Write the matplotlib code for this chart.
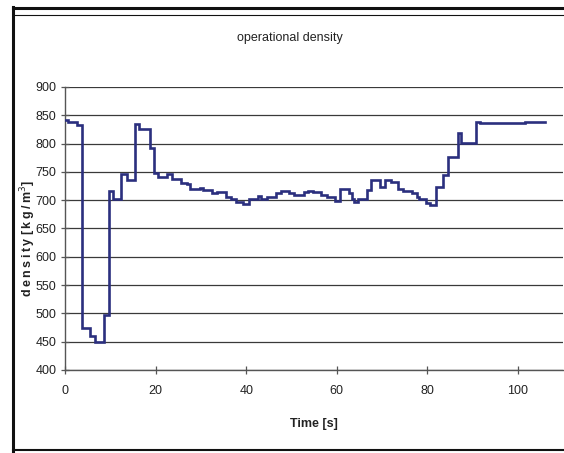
import matplotlib
matplotlib.use("Agg")
import matplotlib.pyplot as plt
from matplotlib.lines import Line2D

plt.rcParams['font.family'] = ['Liberation Sans', 'DejaVu Sans']

time_s = [0, 0.7, 2.6, 3.8, 5.6, 6.6, 8.6, 9.7, 10.6, 12.4, 13.7, 15.5, 16.4, 18.7,
          19.6, 20.5, 22.5, 23.6, 25.6, 27.0, 27.7, 29.8, 30.5, 32.5, 33.6, 35.5,
          36.6, 37.7, 39.4, 40.6, 42.5, 43.2, 44.6, 46.6, 47.7, 49.5, 50.6, 52.7,
          53.6, 54.7, 56.5, 57.9, 59.6, 60.6, 62.6, 63.3, 63.8, 64.7, 66.7, 67.6,
          69.5, 70.7, 71.9, 73.5, 74.7, 76.5, 77.6, 78.1, 79.8, 80.6, 81.8, 83.5,
          84.5, 86.7, 87.4, 90.8, 91.6, 101.6, 105.9]
density = [842, 839, 832, 475, 460, 449, 498, 716, 702, 746, 735, 834, 826, 792,
           748, 741, 746, 738, 731, 729, 720, 722, 718, 712, 715, 706,
           702, 697, 694, 702, 707, 702, 705, 713, 716, 712, 709, 714,
           717, 714, 710, 706, 699, 720, 712, 703, 696, 702, 718, 735,
           723, 735, 733, 720, 716, 712, 706, 702, 695, 692, 723, 745,
           776, 818, 801, 839, 836, 838, 838]

x_ticks = [0, 20, 40, 60, 80, 100]
y_ticks = [400, 450, 500, 550, 600, 650, 700, 750, 800, 850, 900]

W, H = 564, 453
fig = plt.figure(figsize=(W / 100, H / 100), dpi=100)
fig.patch.set_facecolor('white')

left, right, top, bottom = 65, 563.3, 87, 370
ax = fig.add_axes([left / W, 1 - bottom / H, (right - left) / W, (bottom - top) / H])
ax.set_facecolor('white')

ax.plot(time_s, density, drawstyle='steps-post', color='#2b2f7e', lw=1.9,
        solid_joinstyle='miter', zorder=3)

ax.set_xlim(0, 110)
ax.set_ylim(400, 900)
ax.set_xticks(x_ticks)
ax.set_yticks(y_ticks)
ax.yaxis.grid(True, color='#3a3a3a', lw=0.9)
ax.set_axisbelow(True)
for s in ['top', 'right']:
    ax.spines[s].set_visible(False)
for s in ['left', 'bottom']:
    ax.spines[s].set_color('#555555')
    ax.spines[s].set_linewidth(1.0)
ax.tick_params(direction='inout', length=6, width=0.9, color='#555555',
               labelsize=9, labelcolor='#222222')
ax.tick_params(axis='x', pad=8)
ax.tick_params(axis='y', pad=3)

ax.set_xlabel('Time [s]', fontsize=9, fontweight='bold', color='#222222', labelpad=15)

ts = '\u2009'
ylab = ts.join('density') + ' ' + ts.join('[kg/m') + '$^{3}$' + ']'
fig.text(28 / W, 1 - 238 / H, ylab, fontsize=9, fontweight='bold', color='#222222',
         rotation=90, ha='center', va='center', family=['Liberation Sans', 'DejaVu Sans'])

fig.text(290 / W, 1 - 38 / H, 'operational density', fontsize=9, color='#222222',
         ha='center', va='center')

# outer frame
def fl(x0, y0, x1, y1, lw):
    fig.add_artist(Line2D([x0 / W, x1 / W], [1 - y0 / H, 1 - y1 / H],
                          transform=fig.transFigure, color='#111111', lw=lw))

fl(13, 8, 570, 8, 2.2)
fl(13, 15, 570, 15, 0.8)
fl(13, 7, 13, 451, 2.2)
fl(13, 450, 570, 450, 1.5)

fig.savefig('out.png', dpi=100)
